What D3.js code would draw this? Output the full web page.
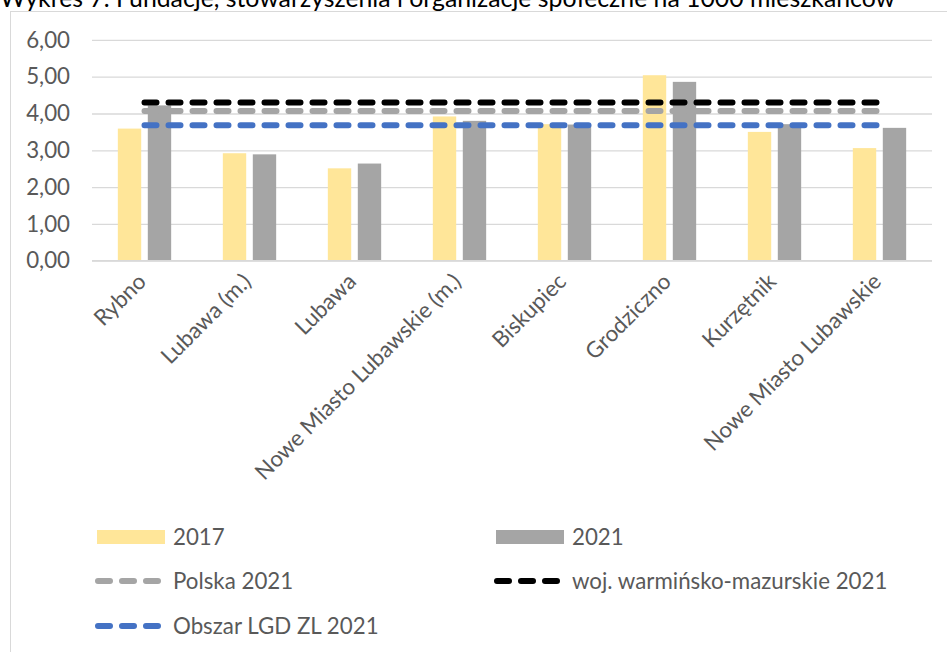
<!DOCTYPE html>
<html>
<head>
<meta charset="utf-8">
<script src="https://cdn.jsdelivr.net/npm/d3@7"></script>
<style>
  html, body { margin: 0; padding: 0; background: #fff; }
  svg { display: block; font-family: Lato, "Open Sans", sans-serif; }
</style>
</head>
<body>
<div id="chart"></div>
<script>
// data
var categories = ["Rybno", "Lubawa (m.)", "Lubawa", "Nowe Miasto Lubawskie (m.)",
                  "Biskupiec", "Grodziczno", "Kurzętnik", "Nowe Miasto Lubawskie"];
var years = ["2017", "2021"];
var values2017 = [3.59, 2.92, 2.51, 3.92, 3.71, 5.04, 3.50, 3.06];
var values2021 = [4.22, 2.89, 2.64, 3.80, 3.70, 4.86, 3.71, 3.61];
var polska2021 = [4.07, 4.07, 4.07, 4.07, 4.07, 4.07, 4.07, 4.07];
var woj2021 = [4.30, 4.30, 4.30, 4.30, 4.30, 4.30, 4.30, 4.30];
var lgd2021 = [3.68, 3.68, 3.68, 3.68, 3.68, 3.68, 3.68, 3.68];
var yTicks = [0, 1, 2, 3, 4, 5, 6];

var title = "Wykres 7. Fundacje, stowarzyszenia i organizacje społeczne na 1000 mieszkańców";

var width = 947, height = 652;
var textColor = "#595959";
var fontSize = "22.3px";

var svg = d3.select("#chart").append("svg")
    .attr("width", width)
    .attr("height", height);

// title sits half outside the top edge, as in the source shot
svg.append("text")
    .attr("x", 0)
    .attr("y", 7)
    .attr("fill", "#000")
    .style("font-size", "24.8px")
    .text(title);

// chart frame
svg.append("rect")
    .attr("x", 10.5).attr("y", 11.5)
    .attr("width", 1000).attr("height", 700)
    .attr("fill", "none")
    .attr("stroke", "#d9d9d9")
    .attr("stroke-width", 1);

var x0 = d3.scaleBand()
    .domain(categories)
    .range([92, 932])
    .paddingInner(0.492)
    .paddingOuter(0.246);

var x1 = d3.scaleBand()
    .domain(years)
    .range([0, x0.bandwidth()])
    .paddingInner(0.22);

var y = d3.scaleLinear()
    .domain([0, 6])
    .range([260.7, 39.9]);

var fmt = function(v) { return d3.format(".2f")(v).replace(".", ","); };

// gridlines + y labels
var yAxis = d3.axisLeft(y)
    .tickValues(yTicks)
    .tickSize(-(932 - 92))
    .tickPadding(22)
    .tickFormat(fmt);

var gy = svg.append("g")
    .attr("transform", "translate(92,0)")
    .call(yAxis);
gy.select(".domain").remove();
gy.selectAll(".tick line")
    .attr("stroke", "#d9d9d9")
    .attr("stroke-width", 1.3);
gy.selectAll(".tick text")
    .attr("fill", textColor)
    .style("font-size", fontSize)
    .style("font-family", "Lato, sans-serif");

// bars
var rows = categories.map(function(c, i) {
  return { cat: c, vals: [{ year: "2017", v: values2017[i] }, { year: "2021", v: values2021[i] }] };
});
var barColor = { "2017": "#FFE699", "2021": "#A5A5A5" };

svg.append("g").selectAll("g")
    .data(rows)
    .enter().append("g")
    .attr("transform", function(d) { return "translate(" + x0(d.cat) + ",0)"; })
    .selectAll("rect")
    .data(function(d) { return d.vals; })
    .enter().append("rect")
    .attr("x", function(d) { return x1(d.year); })
    .attr("y", function(d) { return y(d.v); })
    .attr("width", x1.bandwidth())
    .attr("height", function(d) { return y(0) - y(d.v); })
    .attr("fill", function(d) { return barColor[d.year]; });

// x axis line
svg.append("line")
    .attr("x1", 92).attr("x2", 932)
    .attr("y1", y(0)).attr("y2", y(0))
    .attr("stroke", "#d9d9d9")
    .attr("stroke-width", 1.5);

// category labels, rotated
var cx = function(c) { return x0(c) + x0.bandwidth() / 2; };
svg.append("g").selectAll("text")
    .data(categories)
    .enter().append("text")
    .attr("text-anchor", "end")
    .attr("fill", textColor)
    .style("font-size", fontSize)
    .attr("transform", function(d) { return "translate(" + (cx(d) + 3) + ",283)rotate(-45)"; })
    .text(function(d) { return d; });

// reference lines
var lineSeries = [
  { name: "Polska 2021", vals: polska2021, color: "#A5A5A5" },
  { name: "woj. warmińsko-mazurskie 2021", vals: woj2021, color: "#000000" },
  { name: "Obszar LGD ZL 2021", vals: lgd2021, color: "#4472C4" }
];

var line = d3.line()
    .x(function(d, i) { return cx(categories[i]); })
    .y(function(d) { return y(d); });

svg.append("g").selectAll("path")
    .data(lineSeries)
    .enter().append("path")
    .attr("d", function(d) { return line(d.vals); })
    .attr("fill", "none")
    .attr("stroke", function(d) { return d.color; })
    .attr("stroke-width", 6)
    .attr("stroke-linecap", "round")
    .attr("stroke-dasharray", "12,12");

// legend
var legend = svg.append("g").style("font-size", fontSize).attr("fill", textColor);

var legendItems = [
  { label: "2017", type: "bar", color: "#FFE699", x: 97, y: 537 },
  { label: "2021", type: "bar", color: "#A5A5A5", x: 496, y: 537 },
  { label: "Polska 2021", type: "line", color: "#A5A5A5", x: 97, y: 581 },
  { label: "woj. warmińsko-mazurskie 2021", type: "line", color: "#000000", x: 496, y: 581 },
  { label: "Obszar LGD ZL 2021", type: "line", color: "#4472C4", x: 97, y: 626 }
];

legendItems.forEach(function(it) {
  if (it.type === "bar") {
    legend.append("rect")
        .attr("x", it.x).attr("y", it.y - 7)
        .attr("width", 68).attr("height", 14)
        .attr("fill", it.color);
  } else {
    legend.append("line")
        .attr("x1", it.x + 1).attr("x2", it.x + 63)
        .attr("y1", it.y).attr("y2", it.y)
        .attr("stroke", it.color)
        .attr("stroke-width", 6)
        .attr("stroke-linecap", "round")
        .attr("stroke-dasharray", "12,12");
  }
  legend.append("text")
      .attr("x", it.x + 76)
      .attr("y", it.y)
      .attr("dy", "0.36em")
      .text(it.label);
});
</script>
</body>
</html>
